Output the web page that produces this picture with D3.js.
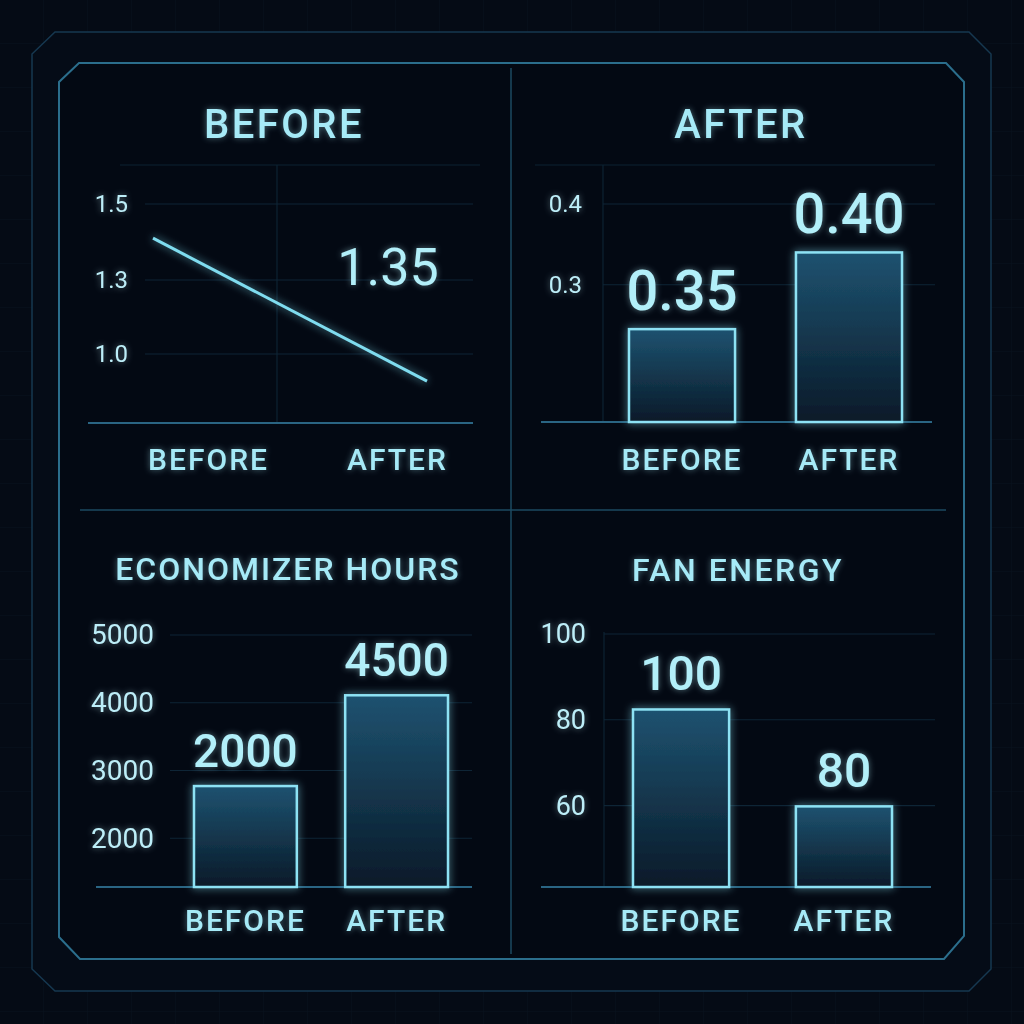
<!DOCTYPE html>
<html>
<head>
<meta charset="utf-8">
<script src="https://cdn.jsdelivr.net/npm/d3@7"></script>
<style>
  html, body { margin: 0; padding: 0; background: #050b15; }
  svg { display: block; }
  text { font-family: Roboto, "DejaVu Sans", sans-serif; }
</style>
</head>
<body>
<div id="chart"></div>
<script>
// Data
const categories = ['BEFORE', 'AFTER'];

// top-left panel (line)
const pueTicks = [1.0, 1.3, 1.5];
const pueValues = [1.41, 0.89];
const pueCallout = '1.35';

// top-right panel
const wueTicks = [0.3, 0.4];
const wueValues = [0.245, 0.34];
const wueLabels = ['0.35', '0.40'];

// bottom-left panel
const econTicks = [2000, 3000, 4000, 5000];
const econValues = [2770, 4110];
const econLabels = ['2000', '4500'];

// bottom-right panel
const fanTicks = [60, 80, 100];
const fanValues = [82.4, 59.8];
const fanLabels = ['100', '80'];

const titles = ['BEFORE', 'AFTER', 'ECONOMIZER HOURS', 'FAN ENERGY'];

const W = 1024, H = 1024;
const TEXT = '#a6eaf7';
const TICK = '#bdeef8';
const LINE = '#7fdcef';

const svg = d3.select('#chart').append('svg')
    .attr('width', W)
    .attr('height', H);

const defs = svg.append('defs');

// Bar gradient
const grad = defs.append('linearGradient')
    .attr('id', 'barFill')
    .attr('x1', 0).attr('y1', 0).attr('x2', 0).attr('y2', 1);
grad.append('stop').attr('offset', '0%').attr('stop-color', '#1e5270');
grad.append('stop').attr('offset', '100%').attr('stop-color', '#091a29');

// Glow filters (blurred copy at reduced alpha under the source)
function addGlow(id, sd, alpha) {
    const f = defs.append('filter').attr('id', id)
        .attr('x', '-40%').attr('y', '-40%').attr('width', '180%').attr('height', '180%');
    f.append('feGaussianBlur').attr('in', 'SourceGraphic').attr('stdDeviation', sd).attr('result', 'b');
    f.append('feComponentTransfer').attr('in', 'b').attr('result', 'bf')
        .append('feFuncA').attr('type', 'linear').attr('slope', alpha);
    const m = f.append('feMerge');
    m.append('feMergeNode').attr('in', 'bf');
    m.append('feMergeNode').attr('in', 'SourceGraphic');
}
addGlow('glow', 4, 0.7);
addGlow('textGlow', 3, 0.45);

// Background grid pattern
const pat = defs.append('pattern')
    .attr('id', 'bgGrid')
    .attr('width', 44).attr('height', 44)
    .attr('patternUnits', 'userSpaceOnUse');
pat.append('rect').attr('width', 44).attr('height', 44).attr('fill', '#050b15');
pat.append('path')
    .attr('d', 'M44,0 V44 H0')
    .attr('fill', 'none')
    .attr('stroke', '#08121e')
    .attr('stroke-width', 1);

svg.append('rect').attr('width', W).attr('height', H).attr('fill', 'url(#bgGrid)');

// Frames
svg.append('path')
    .attr('d', 'M55,32 H969 L991,54 V969 L969,991 H55 L32,969 V54 Z')
    .attr('fill', '#050c17')
    .attr('stroke', '#163850')
    .attr('stroke-width', 1.5);

svg.append('path')
    .attr('d', 'M79,63 H946 L964,82 V936 L944,959 H80 L59,937 V82 Z')
    .attr('fill', '#030913')
    .attr('stroke', '#2b6e8c')
    .attr('stroke-width', 2);

// Dividers
svg.append('line')
    .attr('x1', 511).attr('x2', 511).attr('y1', 68).attr('y2', 954)
    .attr('stroke', '#1d4a62').attr('stroke-width', 1.5);
svg.append('line')
    .attr('x1', 80).attr('x2', 946).attr('y1', 510).attr('y2', 510)
    .attr('stroke', '#1d4a62').attr('stroke-width', 1.5);

// Helpers
function title(text, x, y, size, spacing) {
    svg.append('text')
        .attr('x', x).attr('y', y)
        .attr('text-anchor', 'middle')
        .attr('font-size', size)
        .attr('font-weight', 500)
        .attr('letter-spacing', spacing)
        .attr('fill', TEXT)
        .attr('filter', 'url(#textGlow)')
        .text(text);
}

function faintLine(x1, x2, y1, y2) {
    svg.append('line')
        .attr('x1', x1).attr('x2', x2).attr('y1', y1).attr('y2', y2)
        .attr('stroke', '#0d2333').attr('stroke-width', 1.2);
}

function yAxis(y, ticks, xRight, size, fmt) {
    const g = svg.append('g')
        .attr('transform', `translate(${xRight},0)`)
        .call(d3.axisLeft(y).tickValues(ticks).tickSize(0).tickPadding(0).tickFormat(fmt));
    g.select('.domain').remove();
    g.selectAll('text')
        .attr('font-size', size)
        .attr('font-family', 'Roboto, sans-serif')
        .attr('fill', TICK)
        .attr('filter', 'url(#textGlow)');
}

function grid(y, ticks, x1, x2) {
    svg.append('g').selectAll('line')
        .data(ticks)
        .join('line')
        .attr('x1', x1).attr('x2', x2)
        .attr('y1', d => y(d)).attr('y2', d => y(d))
        .attr('stroke', '#0e2536').attr('stroke-width', 1.2);
}

function baseline(x1, x2, yb) {
    svg.append('line')
        .attr('x1', x1).attr('x2', x2).attr('y1', yb).attr('y2', yb)
        .attr('stroke', '#2a6583').attr('stroke-width', 2);
}

function catLabels(x, yb) {
    const g = svg.append('g')
        .attr('transform', `translate(0,${yb})`)
        .call(d3.axisBottom(x).tickSize(0).tickPadding(0));
    g.select('.domain').remove();
    g.selectAll('text')
        .attr('y', 0).attr('dy', 0)
        .attr('font-size', 30)
        .attr('font-family', 'Roboto, sans-serif')
        .attr('font-weight', 500)
        .attr('letter-spacing', 2)
        .attr('fill', TEXT)
        .attr('filter', 'url(#textGlow)');
}

function bars(x, y, values, labels, yb, labelSize) {
    const g = svg.append('g');
    g.selectAll('rect')
        .data(values)
        .join('rect')
        .attr('x', (d, i) => x(categories[i]))
        .attr('y', d => y(d))
        .attr('width', x.bandwidth())
        .attr('height', d => yb - y(d))
        .attr('fill', 'url(#barFill)')
        .attr('stroke', '#8de2f4')
        .attr('stroke-width', 2.5)
        .attr('filter', 'url(#glow)');
    g.selectAll('text')
        .data(values)
        .join('text')
        .attr('x', (d, i) => x(categories[i]) + x.bandwidth() / 2)
        .attr('y', d => y(d) - 19)
        .attr('text-anchor', 'middle')
        .attr('font-size', labelSize)
        .attr('font-weight', 500)
        .attr('fill', '#b2eff9')
        .attr('filter', 'url(#textGlow)')
        .text((d, i) => labels[i]);
}

// Panel 1: line
(function () {
    title(titles[0], 284, 138, 40, 2.5);
    faintLine(120, 480, 165, 165);
    faintLine(277, 277, 165, 423);
    const y = d3.scaleLinear().domain(pueTicks).range([354, 280, 204]);
    const xLine = d3.scalePoint().domain(categories).range([153, 427]);
    const xLab = d3.scalePoint().domain(categories).range([208, 397]);
    grid(y, pueTicks, 145, 473);
    baseline(88, 473, 423);
    yAxis(y, pueTicks, 128, 24, d3.format('.1f'));
    catLabels(xLab, 470);

    const line = d3.line()
        .x((d, i) => xLine(categories[i]))
        .y(d => y(d));
    svg.append('path')
        .datum(pueValues)
        .attr('d', line)
        .attr('fill', 'none')
        .attr('stroke', LINE)
        .attr('stroke-width', 3)
        .attr('filter', 'url(#glow)');

    svg.append('text')
        .attr('x', 388).attr('y', 285)
        .attr('text-anchor', 'middle')
        .attr('font-size', 52)
        .attr('font-weight', 400)
        .attr('fill', '#b2eff9')
        .attr('filter', 'url(#textGlow)')
        .text(pueCallout);
})();

// Panel 2: bars
(function () {
    title(titles[1], 741, 138, 40, 2.5);
    faintLine(535, 935, 165, 165);
    faintLine(603, 603, 165, 422);
    const y = d3.scaleLinear().domain([0.13, 0.4]).range([422, 204]);
    const x = d3.scaleBand().domain(categories).range([629, 902]).paddingInner(0.365);
    grid(y, wueTicks, 603, 935);
    baseline(541, 932, 422);
    yAxis(y, wueTicks, 582, 24, d3.format('.1f'));
    catLabels(x, 470);
    bars(x, y, wueValues, wueLabels, 422, 56);
})();

// Panel 3: bars
(function () {
    title(titles[2], 288, 580, 32, 2);
    const y = d3.scaleLinear().domain([1280, 5000]).range([887, 635]);
    const x = d3.scaleBand().domain(categories).range([194, 448]).paddingInner(0.32);
    grid(y, econTicks, 170, 472);
    baseline(96, 472, 887);
    yAxis(y, econTicks, 154, 28, d3.format('d'));
    catLabels(x, 931);
    bars(x, y, econValues, econLabels, 887, 46);
})();

// Panel 4: bars
(function () {
    title(titles[3], 738, 581, 32, 2.5);
    faintLine(604, 604, 632, 887);
    const y = d3.scaleLinear().domain([41, 100]).range([887, 634]);
    const x = d3.scaleBand().domain(categories).range([633, 892]).paddingInner(0.41);
    grid(y, fanTicks, 604, 935);
    baseline(541, 931, 887);
    yAxis(y, fanTicks, 586, 27, d3.format('d'));
    catLabels(x, 931);
    bars(x, y, fanValues, fanLabels, 887, 48);
})();
</script>
</body>
</html>
